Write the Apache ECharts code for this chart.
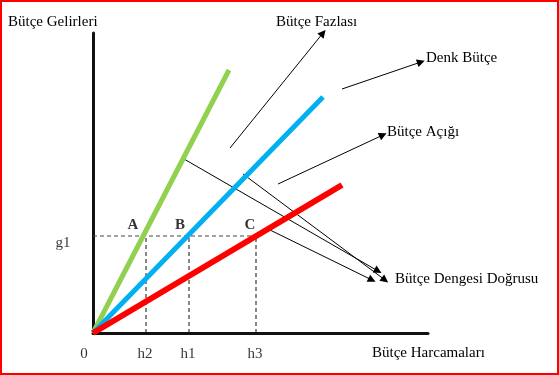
<!DOCTYPE html>
<html>
<head>
<meta charset="utf-8">
<script src="https://cdn.jsdelivr.net/npm/echarts@6/dist/echarts.min.js"></script>
<style>
html,body{margin:0;padding:0;background:#fff;}
#chart{width:559px;height:375px;}
</style>
</head>
<body>
<div id="chart"></div>
<script>
// ---- data (diagram units) ----
const hLabels = ['h2', 'h1', 'h3'];
const hValues = [53, 96, 163];
const g1Value = 97;
const pointLabels = ['A', 'B', 'C'];
const greenLine = [[0, 0], [136, 263]];
const blueLine = [[0, 0], [230, 236]];
const redLine = [[0, 0], [249, 148]];
const arrowFazlasi = [[137, 185], [230, 300]];
const arrowDenk = [[249, 244], [328, 271]];
const arrowAcigi = [[185, 149], [290, 198]];
const arrowsDengesi = [
  [[91, 174], [285, 62]],
  [[150, 159], [292, 53]],
  [[175, 104], [279, 53]]
];
const axisTitleY = 'Bütçe Gelirleri';
const axisTitleX = 'Bütçe Harcamaları';
const textFazlasi = 'Bütçe Fazlası';
const textDenk = 'Denk Bütçe';
const textAcigi = 'Bütçe Açığı';
const textDengesi = 'Bütçe Dengesi Doğrusu';

const FONT = "'Liberation Serif', 'Times New Roman', serif";
const chart = echarts.init(document.getElementById('chart'), null, {renderer: 'canvas'});

const labelStyle = {color: '#000', fontFamily: FONT, fontSize: 15};
const pointLabelOffsets = [[-13, -11], [-9, -11], [-6, -11]];

const series = [];
function straight(data, color, width, type) {
  series.push({
    type: 'line', data: data, symbol: 'none', silent: true, clip: false,
    lineStyle: {color: color, width: width, type: type || 'solid'},
    animation: false
  });
}
// dashed guides
straight([[0, g1Value], [hValues[2], g1Value]], '#444', 1, [4, 3]);
hValues.forEach(h => straight([[h, 0], [h, g1Value]], '#111', 1, [4, 3]));
// budget lines
straight(greenLine, '#92D050', 5);
straight(blueLine, '#00B0F0', 5);
straight(redLine, '#FF0000', 6);

// arrows
const arrowData = [arrowFazlasi, arrowDenk, arrowAcigi].concat(arrowsDengesi)
  .map(c => ({coords: c}));
series.push({
  type: 'lines', coordinateSystem: 'cartesian2d', silent: true, clip: false,
  symbol: ['none', 'triangle'], symbolSize: 8,
  lineStyle: {color: '#000', width: 1, opacity: 1},
  data: arrowData, animation: false
});

// tick labels h2,h1,h3 and 0
series.push({
  type: 'scatter', symbolSize: 0, silent: true, clip: false, animation: false,
  data: hValues.map((h, i) => ({value: [h, 0], name: hLabels[i]})).concat([{value: [0, 0], name: '0', label: {offset: [-9, 21]}}]),
  label: Object.assign({show: true, position: 'inside', offset: [-1, 21], formatter: p => p.name}, labelStyle)
});
// g1 label
series.push({
  type: 'scatter', symbolSize: 0, silent: true, clip: false, animation: false,
  data: [{value: [0, g1Value], name: 'g1'}],
  label: Object.assign({show: true, position: 'inside', offset: [-30, 7], formatter: p => p.name}, labelStyle)
});
// A, B, C labels
series.push({
  type: 'scatter', symbolSize: 0, silent: true, clip: false, animation: false,
  data: hValues.map((h, i) => ({value: [h, g1Value], name: pointLabels[i],
    label: {offset: pointLabelOffsets[i]}})),
  label: Object.assign({show: true, position: 'inside', fontWeight: 'bold', formatter: p => p.name}, labelStyle)
});

function txt(x, y, s) {
  return {type: 'text', left: x, top: y, silent: true,
    style: {text: s, fill: '#000', font: '15px ' + FONT}};
}

chart.setOption({
  animation: false,
  grid: {left: 93, top: 33, width: 335, height: 300},
  xAxis: {type: 'value', min: 0, max: 335,
    axisLine: {show: true, lineStyle: {color: '#111', width: 3}},
    axisTick: {show: false}, axisLabel: {show: false}, splitLine: {show: false}},
  yAxis: {type: 'value', min: 0, max: 300,
    axisLine: {show: true, lineStyle: {color: '#111', width: 3}},
    axisTick: {show: false}, axisLabel: {show: false}, splitLine: {show: false}},
  graphic: [
    {type: 'rect', silent: true, shape: {x: 1, y: 1, width: 557, height: 373},
      style: {fill: 'none', stroke: '#FF0000', lineWidth: 2}},
    txt(8, 15, axisTitleY),
    txt(372, 346, axisTitleX),
    txt(276, 15, textFazlasi),
    txt(426, 51, textDenk),
    txt(387, 125, textAcigi),
    txt(395, 272, textDengesi)
  ],
  series: series
});
</script>
</body>
</html>
